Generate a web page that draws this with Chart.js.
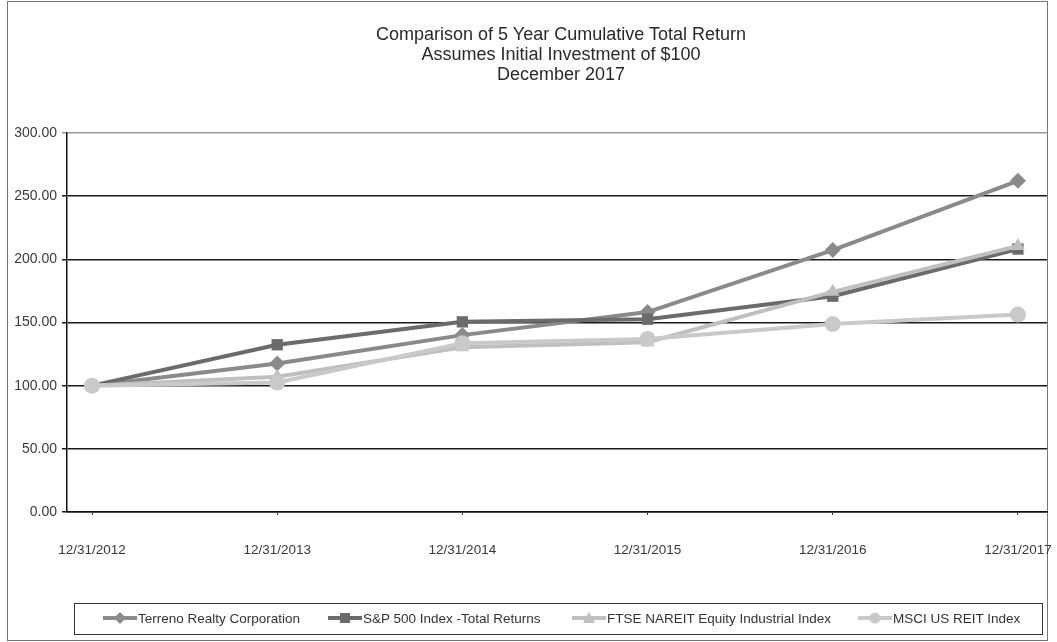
<!DOCTYPE html>
<html>
<head>
<meta charset="utf-8">
<script src="https://cdn.jsdelivr.net/npm/chart.js@4.4.1/dist/chart.umd.min.js"></script>
<style>
  body { margin: 0; background: #fff; font-family: "Liberation Sans", Arial, sans-serif; }
  #wrap { position: relative; width: 1057px; height: 642px; overflow: hidden; }
  #frame { position: absolute; left: 7px; top: 1px; width: 1041px; height: 640px; border: 1px solid #777; box-sizing: border-box; }
  #title { position: absolute; left: 311px; width: 500px; top: 24px; text-align: center; font-size: 18px; line-height: 20px; color: #2a2a2a; }
  #legend { position: absolute; left: 74px; top: 603px; width: 969px; height: 32px; border: 1.5px solid #333; box-sizing: border-box; font-size: 13.5px; color: #333; }
  .item { position: absolute; top: 7px; white-space: nowrap; }
  .item svg { vertical-align: middle; margin-right: 1px; margin-top: -3px; }
  canvas { position: absolute; left: 0; top: 0; }
</style>
</head>
<body>
<div id="wrap">
  <div id="frame"></div>
  <canvas id="chart" width="1057" height="642"></canvas>
  <div id="title">Comparison of 5 Year Cumulative Total Return<br>Assumes Initial Investment of $100<br>December 2017</div>
  <div id="legend"></div>
</div>
<script>
const categories = ["12/31/2012", "12/31/2013", "12/31/2014", "12/31/2015", "12/31/2016", "12/31/2017"];
const terreno = [100.00, 117.62, 140.02, 158.26, 207.35, 262.15];
const sp500 = [100.00, 132.39, 150.51, 152.59, 170.84, 208.14];
const ftseIndustrial = [100.00, 107.08, 130.39, 134.36, 174.26, 210.53];
const msciReit = [100.00, 102.47, 133.60, 136.97, 148.75, 156.29];
const yTicks = [0, 50, 100, 150, 200, 250, 300];

const seriesNames = ["Terreno Realty Corporation", "S&P 500 Index -Total Returns", "FTSE NAREIT Equity Industrial Index", "MSCI US REIT Index"];
const seriesColors = ["#8a8a8a", "#6b6b6b", "#bfbfbf", "#c9c9c9"];
const seriesMarkers = ["rectRot", "rect", "triangle", "circle"];
const seriesData = [terreno, sp500, ftseIndustrial, msciReit];

function toPoints(values) {
    return values.map((v, i) => ({ x: i, y: v }));
}

// build datasets, last one drawn on top
const datasets = seriesData.map((values, i) => ({
    label: seriesNames[i],
    data: toPoints(values),
    borderColor: seriesColors[i],
    backgroundColor: seriesColors[i],
    borderWidth: 4,
    pointStyle: seriesMarkers[i],
    pointRadius: 8,
    pointBorderWidth: 0,
    tension: 0,
    order: 4 - i
}));

const ctx = document.getElementById("chart").getContext("2d");
new Chart(ctx, {
    type: "line",
    data: { datasets: datasets },
    options: {
        responsive: false,
        animation: false,
        layout: { padding: { left: 0, right: 10, top: 133, bottom: 80 } },
        plugins: {
            legend: { display: false },
            title: { display: false },
            tooltip: { enabled: false }
        },
        scales: {
            x: {
                type: "linear",
                min: -0.135,
                max: 5.157,
                afterBuildTicks: function(scale) {
                    scale.ticks = categories.map((c, i) => ({ value: i }));
                },
                afterFit: function(scale) {
                    scale.height = 50;
                    scale.paddingLeft = 0;
                    scale.paddingRight = 0;
                },
                ticks: {
                    callback: function(v) { return categories[v]; },
                    autoSkip: false,
                    maxRotation: 0,
                    padding: 27,
                    color: "#3a3a3a",
                    font: { family: "Liberation Sans", size: 13.5 }
                },
                grid: { drawOnChartArea: false, tickLength: 3, color: "#444", lineWidth: 1 },
                border: { display: true, color: "#111", width: 1.5 }
            },
            y: {
                min: 0,
                max: 300,
                afterBuildTicks: function(scale) {
                    scale.ticks = yTicks.map(v => ({ value: v }));
                },
                afterFit: function(scale) {
                    scale.width = 67;
                    scale.paddingTop = 0;
                    scale.paddingBottom = 0;
                },
                ticks: {
                    callback: function(v) { return v.toFixed(2); },
                    padding: 5,
                    color: "#3a3a3a",
                    font: { family: "Liberation Sans", size: 14 }
                },
                grid: {
                    color: function(c) { return c.tick && c.tick.value == 300 ? "#999" : "#1a1a1a"; },
                    lineWidth: 1.5,
                    tickLength: 5
                },
                border: { display: true, color: "#111", width: 1.5 }
            }
        }
    }
});

// legend in html, line with marker like the original
const legendPos = [28, 253, 497, 783];
const legend = document.getElementById("legend");
function markerSvg(i) {
    const c = seriesColors[i];
    let shape = "";
    if (i == 0) shape = `<polygon points="17,1 23,7 17,13 11,7" fill="${c}"/>`;
    if (i == 1) shape = `<rect x="12" y="2" width="10" height="10" fill="${c}"/>`;
    if (i == 2) shape = `<polygon points="17,1 23,12 11,12" fill="${c}"/>`;
    if (i == 3) shape = `<circle cx="17" cy="7" r="5.5" fill="${c}"/>`;
    return `<svg width="34" height="14"><line x1="0" y1="7" x2="34" y2="7" stroke="${c}" stroke-width="4"/>${shape}</svg>`;
}
seriesNames.forEach((name, i) => {
    const el = document.createElement("span");
    el.className = "item";
    el.style.left = legendPos[i] + "px";
    el.innerHTML = markerSvg(i);
    el.appendChild(document.createTextNode(name));
    legend.appendChild(el);
});
</script>
</body>
</html>
